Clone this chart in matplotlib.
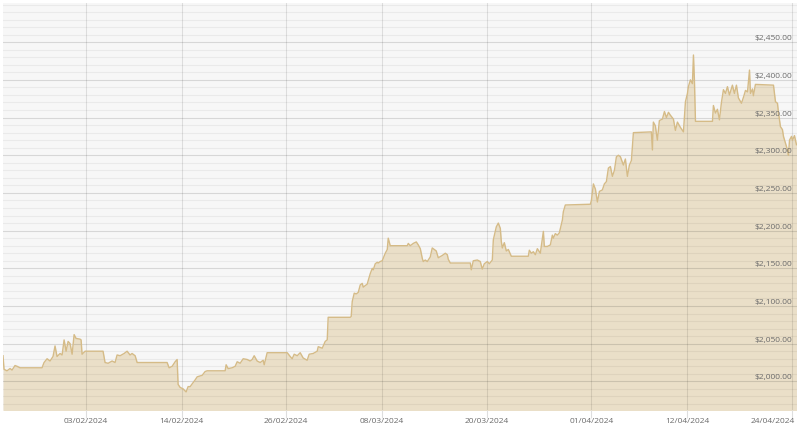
import numpy as np
import pandas as pd
import matplotlib
matplotlib.use("Agg")
import matplotlib.pyplot as plt
from matplotlib.transforms import ScaledTranslation

START = pd.Timestamp("2024-01-24")

# days since START and gold price (USD)
days = [
    0.50, 0.62, 0.96, 1.31, 1.54, 1.88, 2.11, 2.46, 2.69, 4.98,
    5.21, 5.56, 5.90, 6.24, 6.47, 6.70, 7.05, 7.28, 7.51, 7.74,
    7.97, 8.20, 8.43, 8.66, 8.88, 9.34, 9.46, 9.57, 9.92, 11.98,
    12.21, 12.56, 13.02, 13.36, 13.59, 13.94, 14.40, 14.74, 15.08, 15.31,
    15.66, 15.89, 16.58, 19.33, 19.56, 19.91, 20.25, 20.48, 20.59, 20.82,
    21.17, 21.51, 21.74, 21.97,
    22.55, 22.78, 23.35, 23.69, 23.92, 25.99, 26.10, 26.33, 26.79, 27.14,
    27.37, 27.71, 28.06, 28.52, 28.86, 29.09, 29.32, 29.66, 30.01, 30.35,
    30.47, 30.81, 33.11, 33.45, 33.68, 33.91, 34.26, 34.60, 34.94, 35.40,
    35.63, 36.09, 36.55, 36.67, 37.13, 37.24, 37.47, 37.70, 37.81, 40.34,
    40.45, 40.57, 40.80, 41.03, 41.26, 41.49, 41.72, 41.83, 42.06, 42.29,
    42.41, 42.64, 42.87, 42.98, 43.21, 43.44, 43.55, 43.78, 44.01, 44.36,
    44.59, 44.70, 44.93,
    46.88, 47.00, 47.23, 47.57, 47.92, 48.15, 48.38, 48.61, 48.72, 48.95,
    49.18, 49.52, 49.75, 49.98, 50.21, 50.44, 50.90, 51.25, 51.48, 51.59,
    51.82, 54.12, 54.23, 54.46, 54.92, 55.26, 55.49, 55.72, 56.07, 56.30,
    56.64, 56.76, 57.10, 57.33, 57.56, 57.67, 57.79, 58.02, 58.25, 58.48,
    58.82, 60.77, 60.89, 61.12, 61.35, 61.58, 61.81, 62.15, 62.50, 62.61,
    62.96, 63.30, 63.53, 63.64, 63.87, 64.10, 64.33, 64.68, 64.79, 65.02,
    67.89,
    68.01, 68.24, 68.47, 68.70, 68.93, 69.27, 69.50, 69.73, 69.96, 70.19,
    70.42, 70.65, 70.88, 71.11, 71.34, 71.68, 71.91, 72.14, 72.37, 72.60,
    72.83, 74.89, 75.01, 75.12, 75.35, 75.58, 75.81, 76.16, 76.39, 76.62,
    76.85, 77.08, 77.42, 77.65, 77.88, 78.22, 78.57, 78.80, 79.03, 79.14,
    79.37, 79.60, 79.72, 79.83, 79.95, 81.90, 82.01, 82.24, 82.47, 82.70,
    82.93, 83.16, 83.39, 83.62, 83.85, 84.19, 84.42, 84.65, 84.88, 85.23,
    85.46, 85.69, 85.92, 86.15, 86.26, 86.49, 86.60, 86.83, 88.90, 89.13,
    89.36, 89.47, 89.70, 89.93, 90.05, 90.28, 90.51, 90.62, 90.74, 90.97,
    91.08, 91.31, 91.54,
]
prices = [
    2034, 2016, 2014, 2017, 2015, 2021, 2020, 2018, 2018, 2018,
    2025, 2030, 2027, 2033, 2047, 2033, 2037, 2035, 2055, 2040,
    2053, 2050, 2036, 2062, 2057, 2056, 2055, 2036, 2040, 2040,
    2025, 2024, 2027, 2025, 2035, 2034, 2037, 2040, 2035, 2037,
    2034, 2025, 2025, 2025, 2018, 2020, 2026, 2029, 1996, 1992,
    1990, 1986, 1993, 1993,
    2002, 2006, 2008, 2013, 2014, 2014, 2022, 2017, 2018, 2020,
    2026, 2024, 2030, 2029, 2027, 2029, 2034, 2027, 2025, 2028,
    2022, 2038, 2038, 2033, 2030, 2036, 2034, 2038, 2031, 2028,
    2036, 2037, 2040, 2046, 2044, 2047, 2053, 2055, 2085, 2085,
    2086, 2106, 2117, 2116, 2118, 2128, 2130, 2125, 2127, 2129,
    2134, 2143, 2150, 2148, 2156, 2158, 2157, 2159, 2160, 2170,
    2175, 2190, 2180,
    2180, 2183, 2180, 2183, 2185, 2181, 2176, 2163, 2159, 2161,
    2159, 2165, 2177, 2175, 2173, 2164, 2167, 2170, 2168, 2162,
    2157, 2157, 2148, 2160, 2161, 2159, 2149, 2156, 2159, 2156,
    2161, 2188, 2205, 2210, 2203, 2186, 2177, 2184, 2173, 2175,
    2166, 2166, 2174, 2170, 2172, 2168, 2176, 2170, 2199, 2179,
    2179, 2181, 2194, 2190, 2196, 2194, 2197, 2214, 2225, 2234,
    2235,
    2240, 2262, 2255, 2238, 2252, 2254, 2262, 2265, 2283, 2285,
    2272, 2280, 2298, 2300, 2298, 2287, 2295, 2272, 2287, 2293,
    2330, 2331, 2307, 2344, 2339, 2320, 2346, 2348, 2358, 2350,
    2357, 2353, 2348, 2333, 2344, 2337, 2331, 2371, 2382, 2391,
    2400, 2395, 2433, 2400, 2345, 2345, 2366, 2356, 2361, 2347,
    2370, 2387, 2382, 2391, 2380, 2393, 2382, 2393, 2376, 2369,
    2377, 2386, 2384, 2413, 2382, 2388, 2379, 2394, 2393, 2371,
    2369, 2357, 2338, 2334, 2325, 2316, 2307, 2300, 2320, 2325,
    2320, 2326, 2314,
]

tick_labels = ["03/02/2024", "14/02/2024", "26/02/2024", "08/03/2024",
               "20/03/2024", "01/04/2024", "12/04/2024", "24/04/2024"]
price_ticks = [2000, 2050, 2100, 2150, 2200, 2250, 2300, 2350, 2400, 2450]

t = START + pd.to_timedelta(days, unit="D")
tick_pos = pd.to_datetime(tick_labels, format="%d/%m/%Y")

LABEL_COLOR = "#6b6b6b"
FONT = ["Open Sans", "DejaVu Sans"]

fig = plt.figure(figsize=(8, 4.29), dpi=100)
ax = fig.add_axes([3 / 800, 19 / 429, 794 / 800, 407 / 429])
ax.set_facecolor("#f7f7f7")
for s in ax.spines.values():
    s.set_visible(False)

ax.fill_between(t, prices, 1900, color="#eadfc8", lw=0, zorder=1)
ax.plot(t, prices, color="#d5bb87", lw=1.0, zorder=4)

ax.set_ylim(1962, 2502)
ax.set_xlim(START + pd.Timedelta(days=0.5), START + pd.Timedelta(days=91.6))

ax.set_yticks(price_ticks)
ax.set_yticks(np.arange(1970, 2501, 10), minor=True)
ax.set_axisbelow(False)
ax.grid(axis="y", which="minor", color="black", alpha=0.05, lw=0.8)
ax.grid(axis="y", which="major", color="black", alpha=0.13, lw=0.8)
ax.grid(axis="x", which="major", color="black", alpha=0.10, lw=0.8)
ax.tick_params(axis="y", which="both", left=False, labelleft=False)

ax.set_xticks(tick_pos)
ax.set_xticklabels(tick_labels, fontsize=6, color=LABEL_COLOR, family=FONT)
ax.tick_params(axis="x", length=6, width=0.8, color="#dedede", pad=0)
# last label is pushed inside the chart, as in the original
last = ax.get_xticklabels()[-1]
last.set_horizontalalignment("right")
last.set_transform(last.get_transform() + ScaledTranslation(3 / 100, 0, fig.dpi_scale_trans))

for v in price_ticks:
    ax.text(0.9946, v, f"${v:,.2f}", transform=ax.get_yaxis_transform(),
            ha="right", va="bottom", fontsize=6, color=LABEL_COLOR,
            family=FONT, zorder=5)

fig.savefig("out.png", dpi=100)
